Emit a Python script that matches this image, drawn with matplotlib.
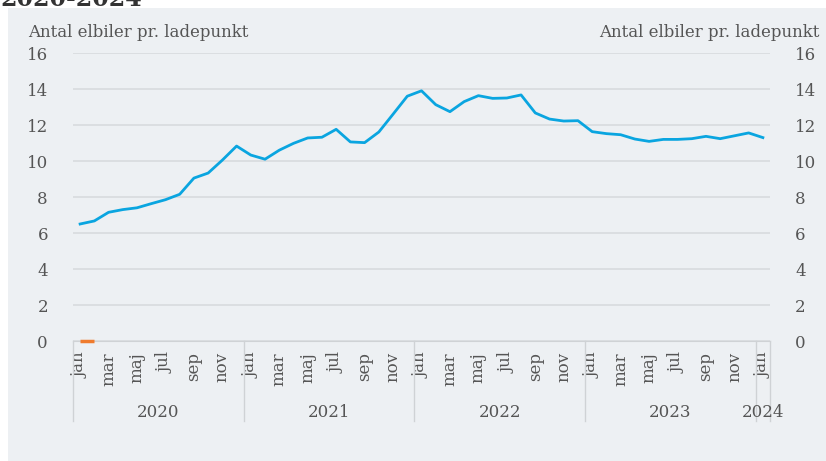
import matplotlib.pyplot as plt
import matplotlib.transforms as mtransforms

# data: antal elbiler pr. ladepunkt, jan 2020 - jan 2024
years = ["2020", "2021", "2022", "2023", "2024"]
months = ["jan", "feb", "mar", "apr", "maj", "jun", "jul", "aug", "sep", "okt", "nov", "dec"]
elbiler_pr_ladepunkt = [
    6.5, 6.67, 7.15, 7.3, 7.4, 7.63, 7.85, 8.15, 9.05, 9.33, 10.05, 10.83,
    10.33, 10.1, 10.6, 10.98, 11.28, 11.32, 11.76, 11.06, 11.02, 11.61, 12.6, 13.6,
    13.9, 13.13, 12.74, 13.3, 13.63, 13.48, 13.5, 13.67, 12.67, 12.33, 12.22, 12.24,
    11.63, 11.52, 11.46, 11.22, 11.09, 11.2, 11.2, 11.24, 11.37, 11.24, 11.4, 11.56,
    11.3,
]
second_series = [0, 0]
y_ticks = [0, 2, 4, 6, 8, 10, 12, 14, 16]
y_title = "Antal elbiler pr. ladepunkt"

W, H = 826, 461
BG = "#edf0f3"
TXT = "#555555"
FONT = "DejaVu Serif"
plt.rcParams["font.family"] = FONT

fig = plt.figure(figsize=(W / 100, H / 100), dpi=100)
fig.patch.set_facecolor("white")
# panel
fig.patches.append(plt.Rectangle((8 / W, 0), 1 - 8 / W, 1 - 8 / H, transform=fig.transFigure,
                                 facecolor=BG, edgecolor="none", zorder=-10))
# cropped title on top
fig.text(0 / W, 1 - 6 / H, "2020-2024", fontsize=17, fontweight="bold", color="#333333",
         va="baseline", ha="left")

left, right, bottom, top = 73, 770, 341, 53
ax = fig.add_axes([left / W, (H - bottom) / H, (right - left) / W, (bottom - top) / H])
ax.set_facecolor("none")

n = len(elbiler_pr_ladepunkt)
x = list(range(n))
ax.plot(x, elbiler_pr_ladepunkt, color="#0aa5e0", lw=2.0, zorder=3)
ax.plot(range(len(second_series)), second_series, color="#ef7b2d", lw=2.5, zorder=4,
        clip_on=False, solid_capstyle="butt")

ax.set_xlim(-0.5, n - 0.5)
ax.set_ylim(0, 16)
ax.set_yticks(y_ticks)
ax.grid(axis="y", color="#d8dbde", lw=1.2)
ax.set_axisbelow(True)
for s in ["top", "left", "right"]:
    ax.spines[s].set_visible(False)
ax.spines["bottom"].set_color("#cfd2d5")

ax.tick_params(axis="y", length=0, pad=18, labelsize=12, labelcolor=TXT,
               labelleft=True, labelright=True)

# month ticks (every other month)
tick_pos = [i for i in x if i % 2 == 0]
tick_lab = [months[i % 12] for i in tick_pos]
ax.set_xticks(tick_pos)
ax.set_xticklabels(tick_lab, rotation=90, fontsize=12, color=TXT)
ax.tick_params(axis="x", length=0, pad=8)

# year separators and labels
trans = mtransforms.blended_transform_factory(ax.transData, ax.transAxes)
sep_bottom = -(421 - bottom) / (bottom - top)
bounds = [-0.5, 11.5, 23.5, 35.5, 47.5, 48.5]
for b in bounds:
    ax.plot([b, b], [0, sep_bottom], transform=trans, color="#cfd2d5", lw=1, clip_on=False)
year_y = -(412 - bottom) / (bottom - top)
for i, yr in enumerate(years):
    cx = 5.5 + 12 * i if i < 4 else 48
    ax.text(cx, year_y, yr, transform=trans, ha="center", va="center", fontsize=12, color=TXT)

fig.text(28 / W, 1 - 37 / H, y_title, ha="left", va="baseline", fontsize=12, color=TXT)
fig.text(819 / W, 1 - 37 / H, y_title, ha="right", va="baseline", fontsize=12, color=TXT)

fig.savefig("out.png", dpi=100, facecolor=fig.get_facecolor())
